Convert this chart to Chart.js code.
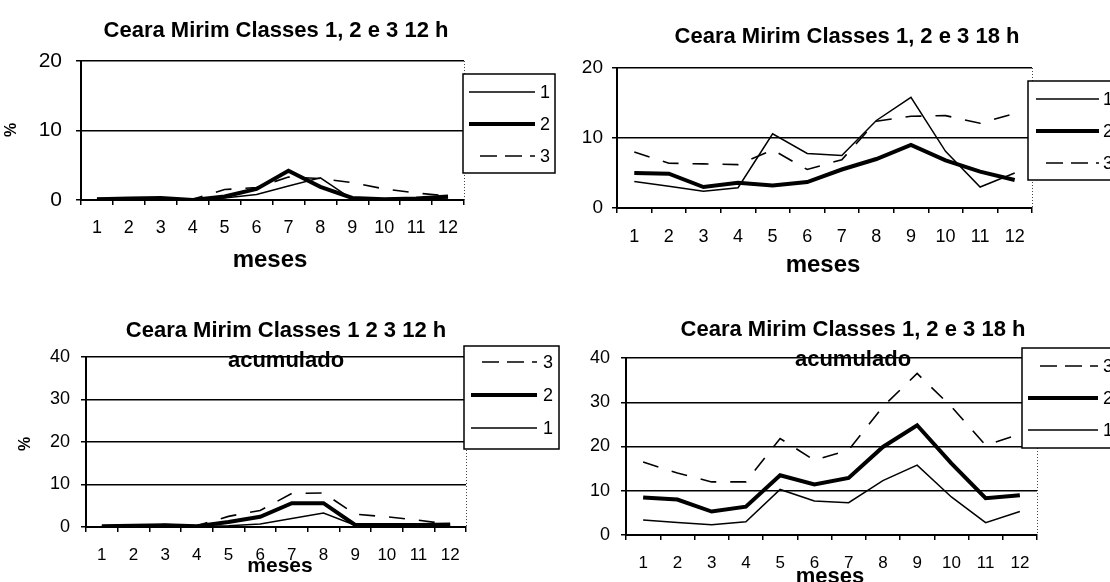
<!DOCTYPE html>
<html>
<head>
<meta charset="utf-8">
<script src="https://cdn.jsdelivr.net/npm/chart.js@4.4.1/dist/chart.umd.min.js"></script>
<style>
  html, body { margin: 0; padding: 0; background: #fff; }
  #page { position: relative; width: 1110px; height: 582px; overflow: hidden; background: #fff; }
  #page canvas { position: absolute; }
</style>
</head>
<body>
<div id="page">
  <canvas id="c12" width="560" height="290" style="left:0;top:0"></canvas>
  <canvas id="c18" width="550" height="290" style="left:560px;top:0"></canvas>
  <canvas id="c12acc" width="560" height="292" style="left:0;top:290px"></canvas>
  <canvas id="c18acc" width="550" height="292" style="left:560px;top:290px"></canvas>
</div>
<script>
// months on the x axis
const meses = ['1', '2', '3', '4', '5', '6', '7', '8', '9', '10', '11', '12'];

// % per class, 12 h
const classe1_12h = [0, 0, 0, 0, 0.3, 0.8, 2.0, 3.2, 0.1, 0, 0.2, 0.3];
const classe2_12h = [0.1, 0.2, 0.3, 0, 0.5, 1.6, 4.2, 1.9, 0.3, 0.1, 0.2, 0.5];
const classe3_12h = [0.2, 0.2, 0.3, 0.1, 1.5, 1.8, 3.3, 3.1, 2.5, 1.6, 1.0, 0.6];

// % per class, 18 h
const classe1_18h = [3.8, 3.1, 2.4, 2.9, 10.6, 7.8, 7.5, 12.5, 15.8, 8.1, 3.0, 5.0];
const classe2_18h = [5.0, 4.9, 3.0, 3.6, 3.2, 3.7, 5.5, 7.0, 9.0, 6.8, 5.2, 4.0];
const classe3_18h = [8.0, 6.4, 6.3, 6.2, 8.3, 5.5, 6.9, 12.4, 13.1, 13.2, 12.1, 13.5];

// accumulated, 12 h
const acum1_12h = [0.1, 0.1, 0.1, 0.1, 0.3, 0.7, 2.0, 3.3, 0.4, 0.3, 0.3, 0.3];
const acum2_12h = [0.2, 0.3, 0.4, 0.2, 1.2, 2.4, 5.6, 5.6, 0.5, 0.5, 0.5, 0.6];
const acum3_12h = [0.3, 0.4, 0.6, 0.3, 2.5, 3.9, 7.9, 8.0, 3.0, 2.4, 1.6, 0.6];

// accumulated, 18 h
const acum1_18h = [3.4, 2.8, 2.3, 3.0, 10.3, 7.7, 7.3, 12.3, 15.8, 8.6, 2.8, 5.3];
const acum2_18h = [8.5, 8.0, 5.3, 6.4, 13.5, 11.4, 12.9, 19.9, 24.8, 16.2, 8.3, 9.0];
const acum3_18h = [16.5, 14.0, 12.0, 12.0, 21.8, 16.9, 19.2, 29.0, 36.5, 29.0, 20.3, 22.8];

const FONT = "'Liberation Sans', Arial, sans-serif";
const Y_W = 50;   // fixed y-axis box width
const X_H = 40;   // fixed x-axis box height

const THIN = { borderWidth: 1.5 };
const THICK = { borderWidth: 4 };
const DASHED = { borderWidth: 1.6, borderDash: [16, 14] };

function serie(label, data, style) {
    return Object.assign({
        label: label,
        data: data,
        borderColor: '#000',
        backgroundColor: '#000',
        fill: false,
        pointRadius: 0,
        tension: 0
    }, style);
}

// titles, axis titles, dotted right border and boxed legend
const decorPlugin = {
    id: 'decor',
    afterDraw(chart, args, opts) {
        const ctx = chart.ctx;
        const area = chart.chartArea;
        ctx.save();

        // dotted right edge of the plot area
        ctx.strokeStyle = '#444';
        ctx.lineWidth = 1;
        ctx.setLineDash([1, 2]);
        ctx.beginPath();
        ctx.moveTo(Math.round(area.right) + 0.5, area.top);
        ctx.lineTo(Math.round(area.right) + 0.5, area.bottom);
        ctx.stroke();
        ctx.setLineDash([]);

        ctx.fillStyle = '#000';
        ctx.textAlign = 'center';
        ctx.textBaseline = 'alphabetic';
        (opts.titles || []).forEach(t => {
            ctx.font = `bold ${t.size}px ${FONT}`;
            ctx.fillText(t.text, t.x, t.y);
        });

        if (opts.xTitle) {
            const t = opts.xTitle;
            ctx.font = `bold ${t.size}px ${FONT}`;
            ctx.fillText(t.text, t.x, t.y);
        }

        if (opts.yTitle) {
            const t = opts.yTitle;
            ctx.save();
            ctx.translate(t.x, t.y);
            ctx.rotate(-Math.PI / 2);
            ctx.font = `bold ${t.size}px ${FONT}`;
            ctx.textBaseline = 'middle';
            ctx.fillText(t.text, 0, 0);
            ctx.restore();
        }

        const lg = opts.legend;
        if (lg) {
            ctx.fillStyle = '#fff';
            ctx.fillRect(lg.x, lg.y, lg.w, lg.h);
            ctx.strokeStyle = '#000';
            ctx.lineWidth = 1.5;
            ctx.strokeRect(lg.x, lg.y, lg.w, lg.h);

            lg.order.forEach((idx, i) => {
                const ds = chart.data.datasets[idx];
                const y = lg.y + lg.rows[i];
                const dashed = ds.borderDash && ds.borderDash.length;
                ctx.beginPath();
                ctx.strokeStyle = '#000';
                ctx.lineWidth = ds.borderWidth;
                ctx.setLineDash(dashed ? [17, 8] : []);
                ctx.moveTo(lg.x + (dashed ? lg.dashFrom : lg.lineFrom), y);
                ctx.lineTo(lg.x + lg.lineTo, y);
                ctx.stroke();
                ctx.setLineDash([]);

                ctx.fillStyle = '#000';
                ctx.font = `${lg.size}px ${FONT}`;
                ctx.textAlign = 'left';
                ctx.textBaseline = 'middle';
                ctx.fillText(ds.label, lg.x + lg.textX, y + 1);
            });
        }
        ctx.restore();
    }
};

function makePanel(id, p) {
    const canvas = document.getElementById(id);
    return new Chart(canvas, {
        type: 'line',
        data: {
            labels: meses,
            datasets: p.datasets
        },
        options: {
            responsive: false,
            animation: false,
            layout: {
                padding: {
                    left: p.plot.left - Y_W,
                    top: p.plot.top,
                    right: canvas.width - p.plot.right,
                    bottom: canvas.height - p.plot.bottom - X_H
                }
            },
            scales: {
                x: {
                    offset: true,
                    grid: {
                        offset: true,
                        drawOnChartArea: false,
                        drawTicks: true,
                        tickLength: 5,
                        color: '#000',
                        lineWidth: 1.5
                    },
                    border: { display: true, color: '#000', width: 2 },
                    ticks: {
                        color: '#000',
                        font: { family: FONT, size: p.xFont },
                        padding: p.xPad,
                        maxRotation: 0,
                        autoSkip: false
                    },
                    afterFit(scale) { scale.height = X_H; }
                },
                y: {
                    min: 0,
                    max: p.yMax,
                    grid: { color: '#000', lineWidth: 1.5, tickLength: 5 },
                    border: { display: true, color: '#000', width: 2 },
                    ticks: {
                        stepSize: 10,
                        color: '#000',
                        font: { family: FONT, size: p.yFont },
                        padding: p.yPad
                    },
                    afterFit(scale) { scale.width = Y_W; }
                }
            },
            plugins: {
                legend: { display: false },
                tooltip: { enabled: false },
                decor: p.decor
            }
        },
        plugins: [decorPlugin]
    });
}

makePanel('c12', {
    plot: { left: 81, right: 464, top: 61, bottom: 200 },
    yMax: 20, yFont: 21, yPad: 14, xFont: 18, xPad: 12,
    datasets: [
        serie('1', classe1_12h, THIN),
        serie('2', classe2_12h, THICK),
        serie('3', classe3_12h, DASHED)
    ],
    decor: {
        titles: [{ text: 'Ceara Mirim Classes 1, 2 e 3 12 h', x: 276, y: 37, size: 22 }],
        xTitle: { text: 'meses', x: 270, y: 267, size: 24 },
        yTitle: { text: '%', x: 12, y: 130, size: 16 },
        legend: { x: 463, y: 74, w: 92, h: 99, rows: [18, 50, 82], order: [0, 1, 2],
                  lineFrom: 6, dashFrom: 17, lineTo: 72, textX: 77, size: 18 }
    }
});

makePanel('c18', {
    plot: { left: 57, right: 472, top: 68, bottom: 208 },
    yMax: 20, yFont: 19, yPad: 9, xFont: 18, xPad: 13,
    datasets: [
        serie('1', classe1_18h, THIN),
        serie('2', classe2_18h, THICK),
        serie('3', classe3_18h, DASHED)
    ],
    decor: {
        titles: [{ text: 'Ceara Mirim Classes 1, 2 e 3 18 h', x: 287, y: 43, size: 22 }],
        xTitle: { text: 'meses', x: 263, y: 272, size: 24 },
        legend: { x: 468, y: 81, w: 92, h: 99, rows: [18, 50, 82], order: [0, 1, 2],
                  lineFrom: 8, dashFrom: 18, lineTo: 71, textX: 75, size: 18 }
    }
});

makePanel('c12acc', {
    plot: { left: 86, right: 466, top: 67, bottom: 237 },
    yMax: 40, yFont: 18, yPad: 11, xFont: 17, xPad: 13,
    datasets: [
        serie('1', acum1_12h, THIN),
        serie('2', acum2_12h, THICK),
        serie('3', acum3_12h, DASHED)
    ],
    decor: {
        titles: [
            { text: 'Ceara Mirim Classes 1 2 3 12 h', x: 286, y: 47, size: 22 },
            { text: 'acumulado', x: 286, y: 77, size: 22 }
        ],
        xTitle: { text: 'meses', x: 280, y: 282, size: 21 },
        yTitle: { text: '%', x: 26, y: 154, size: 16 },
        legend: { x: 464, y: 56, w: 95, h: 103, rows: [16, 49, 82], order: [2, 1, 0],
                  lineFrom: 7, dashFrom: 18, lineTo: 73, textX: 79, size: 18 }
    }
});

makePanel('c18acc', {
    plot: { left: 66, right: 477, top: 68, bottom: 245 },
    yMax: 40, yFont: 18, yPad: 11, xFont: 17, xPad: 13,
    datasets: [
        serie('1', acum1_18h, THIN),
        serie('2', acum2_18h, THICK),
        serie('3', acum3_18h, DASHED)
    ],
    decor: {
        titles: [
            { text: 'Ceara Mirim Classes 1, 2 e 3 18 h', x: 293, y: 46, size: 22 },
            { text: 'acumulado', x: 293, y: 76, size: 22 }
        ],
        xTitle: { text: 'meses', x: 270, y: 293, size: 22 },
        legend: { x: 462, y: 58, w: 100, h: 100, rows: [18, 50, 82], order: [2, 1, 0],
                  lineFrom: 6, dashFrom: 18, lineTo: 76, textX: 81, size: 18 }
    }
});
</script>
</body>
</html>
